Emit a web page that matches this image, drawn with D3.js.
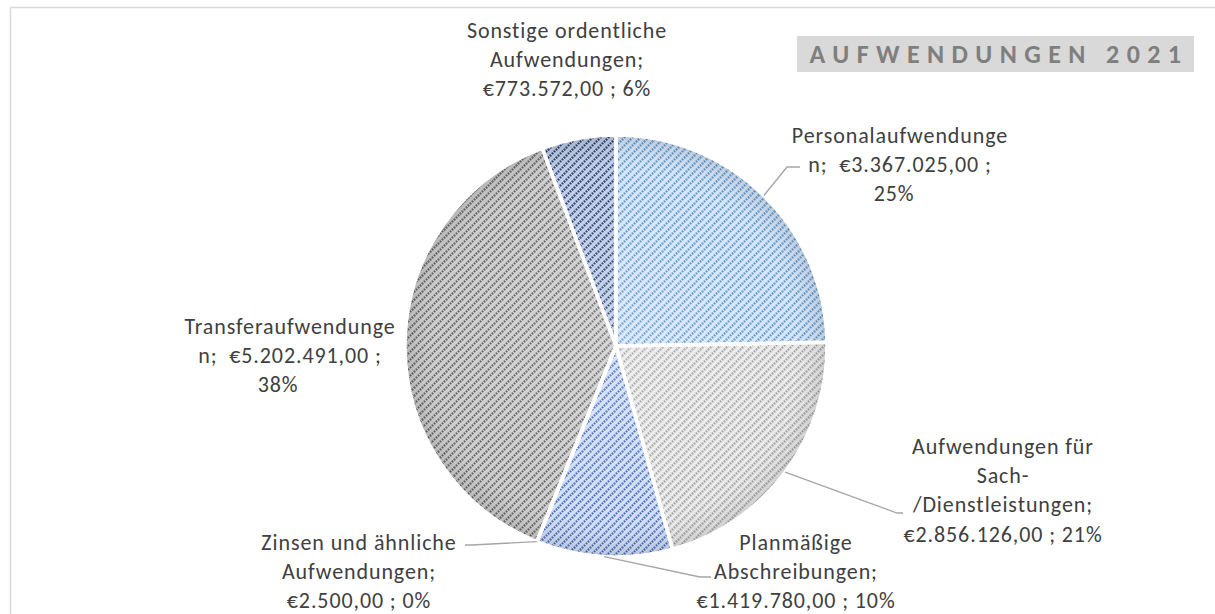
<!DOCTYPE html>
<html>
<head>
<meta charset="utf-8">
<script src="https://cdn.jsdelivr.net/npm/d3@7"></script>
<style>
  body { margin: 0; background: #fff; }
  text { font-family: Calibri, Carlito, Lato, sans-serif; }
</style>
</head>
<body>
<div id="chart"></div>
<script>
// data
var categories = [
  "Personalaufwendungen",
  "Aufwendungen für Sach-/Dienstleistungen",
  "Planmäßige Abschreibungen",
  "Zinsen und ähnliche Aufwendungen",
  "Transferaufwendungen",
  "Sonstige ordentliche Aufwendungen"
];
var values = [3367025, 2856126, 1419780, 2500, 5202491, 773572];
// label text, as Excel wraps it
var labelLines = [
  ["Personalaufwendunge", "n;  €3.367.025,00 ;", "25%"],
  ["Aufwendungen für", "Sach-", "/Dienstleistungen;", "€2.856.126,00 ; 21%"],
  ["Planmäßige", "Abschreibungen;", "€1.419.780,00 ; 10%"],
  ["Zinsen und ähnliche", "Aufwendungen;", "€2.500,00 ; 0%"],
  ["Transferaufwendunge", "n;  €5.202.491,00 ;", "38%"],
  ["Sonstige ordentliche", "Aufwendungen;", "€773.572,00 ; 6%"]
];
var title = "AUFWENDUNGEN 2021";

// styles / layout
var bgColors   = ["#d8e6f7", "#ebebeb", "#d5dff5", "#ffe8a8", "#d0d0d0", "#c3cee6"];
var lineColors = ["#5b9bd5", "#a5a5a5", "#4472c4", "#ffc000", "#676767", "#264478"];
var labelPos = [ // center x, first line middle y
  [900, 135], [1003, 446], [796, 542], [359, 542], [290, 326], [567, 30]
];
var lastLineDx = [-6, 0, 0, 0, -12, 0];
var leaderEnd = [ // elbow point, end point (or null)
  [[787, 167], [800, 167]],
  [[897, 513], [903, 513]],
  [[700, 577], [711, 577]],
  [[472, 545], [465, 545]],
  null,
  null
];

var W = 1215, H = 614;
var cx = 616, cy = 346, r = 211;
var lineH = 29.3;

var svg = d3.select("#chart").append("svg")
    .attr("width", W)
    .attr("height", H);

// chart frame
svg.append("path")
    .attr("d", "M10.5," + H + " L10.5,7.5 L" + W + ",7.5")
    .attr("fill", "none")
    .attr("stroke", "#d9d9d9")
    .attr("stroke-width", 1.5);

var defs = svg.append("defs");

// a hatch pattern per slice
categories.forEach(function(c, i) {
  var p = defs.append("pattern")
      .attr("id", "hatch" + i)
      .attr("patternUnits", "userSpaceOnUse")
      .attr("width", 8)
      .attr("height", 8);
  p.append("rect").attr("width", 8).attr("height", 8).attr("fill", bgColors[i]);
  p.append("path")
      .attr("d", "M-2,2 L2,-2 M0,8 L8,0 M6,10 L10,6")
      .attr("stroke", lineColors[i])
      .attr("stroke-width", 2.4)
      .attr("stroke-dasharray", "1.6,1.2");
});

// soft shading toward the rim
var grad = defs.append("radialGradient")
    .attr("id", "shade")
    .attr("gradientUnits", "userSpaceOnUse")
    .attr("cx", 0).attr("cy", 0).attr("r", r);
grad.append("stop").attr("offset", "0%").attr("stop-color", "#fff").attr("stop-opacity", 0.15);
grad.append("stop").attr("offset", "80%").attr("stop-color", "#fff").attr("stop-opacity", 0);
grad.append("stop").attr("offset", "100%").attr("stop-color", "#000").attr("stop-opacity", 0.12);

var pie = d3.pie().sort(null).value(function(d) { return d; });
var arcs = pie(values);
var arc = d3.arc().innerRadius(0).outerRadius(r);

var g = svg.append("g").attr("transform", "translate(" + cx + "," + cy + ")");

g.selectAll("path.slice")
  .data(arcs)
  .enter()
  .append("path")
    .attr("class", "slice")
    .attr("d", arc)
    .attr("fill", function(d, i) { return "url(#hatch" + i + ")"; });

g.selectAll("path.shade")
  .data(arcs)
  .enter()
  .append("path")
    .attr("class", "shade")
    .attr("d", arc)
    .attr("fill", "url(#shade)")
    .attr("stroke", "#fff")
    .attr("stroke-width", 3.5)
    .attr("stroke-linejoin", "round");

// leader lines
arcs.forEach(function(d, i) {
  if (!leaderEnd[i]) return;
  var a = (d.startAngle + d.endAngle) / 2;
  var sx = cx + r * Math.sin(a), sy = cy - r * Math.cos(a);
  var pts = [[sx, sy]].concat(leaderEnd[i]);
  svg.append("path")
      .attr("d", d3.line()(pts))
      .attr("fill", "none")
      .attr("stroke", "#a6a6a6")
      .attr("stroke-width", 1.3);
});

// data labels
labelLines.forEach(function(lines, i) {
  var t = svg.append("text")
      .attr("text-anchor", "middle")
      .attr("fill", "#404040")
      .style("font-size", "22px")
      .style("letter-spacing", "0.9px");
  lines.forEach(function(l, j) {
    t.append("tspan")
        .attr("x", labelPos[i][0] + (j === lines.length - 1 ? lastLineDx[i] : 0))
        .attr("y", labelPos[i][1] + j * lineH)
        .attr("dy", "0.35em")
        .attr("xml:space", "preserve")
        .text(l);
  });
});

// title box
svg.append("rect")
    .attr("x", 797).attr("y", 36)
    .attr("width", 397).attr("height", 36)
    .attr("fill", "#d9d9d9");
svg.append("text")
    .attr("x", 999).attr("y", 54)
    .attr("dy", "0.36em")
    .attr("text-anchor", "middle")
    .attr("fill", "#7f7f7f")
    .style("font-size", "26px")
    .style("font-weight", "bold")
    .style("letter-spacing", "7.4px")
    .text(title);
</script>
</body>
</html>
